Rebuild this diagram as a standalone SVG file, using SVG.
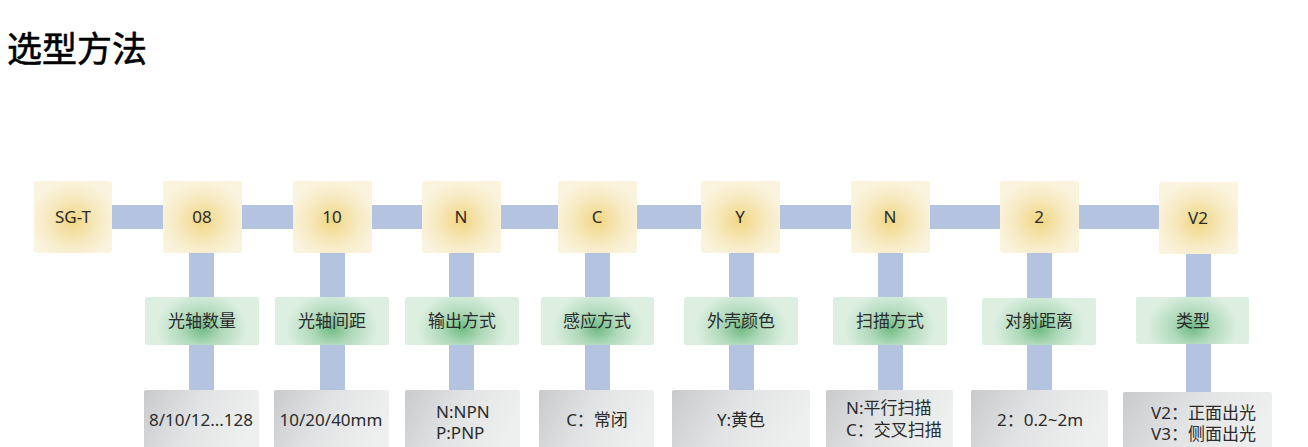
<svg xmlns="http://www.w3.org/2000/svg" width="1308" height="447" viewBox="0 0 1308 447">
<style>
text{font-family:"Noto Sans","Noto Sans CJK SC",sans-serif;fill:#2b2b2b;font-size:17px}
.title{font-family:"Noto Sans CJK SC",sans-serif;font-size:35px;font-weight:400;fill:#000;stroke:#000;stroke-width:0.6}
.c{text-anchor:middle}
.bar{fill:#b4c3e0}
.top{fill:url(#gy)}
.lab{fill:url(#gg)}
.val{fill:url(#gr)}
</style>
<defs>
<radialGradient id="gy" cx="0.5" cy="0.55" r="0.55">
<stop offset="0" stop-color="#f1d683"/>
<stop offset="0.6" stop-color="#f7eac2"/>
<stop offset="1" stop-color="#faf3dd"/>
</radialGradient>
<radialGradient id="gg" cx="0.5" cy="0.65" r="0.5" gradientTransform="translate(0.5 0.65) scale(0.8 1.5) translate(-0.5 -0.65)">
<stop offset="0" stop-color="#6fbb83"/>
<stop offset="0.45" stop-color="#b0d9ba"/>
<stop offset="1" stop-color="#dcefe1"/>
</radialGradient>
<linearGradient id="gr" x1="0" y1="0" x2="1" y2="0.3">
<stop offset="0" stop-color="#c9cacc"/>
<stop offset="0.5" stop-color="#e2e3e4"/>
<stop offset="1" stop-color="#eef0ef"/>
</linearGradient>
</defs>
<text class="title" x="7" y="62">选型方法</text>
<g id="connectors">
<rect class="bar" x="73" y="205" width="1125" height="24"/>
<rect class="bar" x="189" y="250" width="25" height="142"/>
<rect class="bar" x="320" y="250" width="25" height="142"/>
<rect class="bar" x="449" y="250" width="25" height="142"/>
<rect class="bar" x="585" y="250" width="25" height="142"/>
<rect class="bar" x="729" y="250" width="25" height="142"/>
<rect class="bar" x="878" y="250" width="25" height="142"/>
<rect class="bar" x="1027" y="250" width="25" height="142"/>
<rect class="bar" x="1186" y="250" width="25" height="142"/>
</g>
<g id="n-sgt"><rect class="top" x="34" y="181" width="78" height="72" rx="3"/><text class="c" x="73" y="223">SG-T</text></g>
<g id="n-08"><rect class="top" x="163" y="181" width="79" height="72" rx="3"/><text class="c" x="202" y="223">08</text></g>
<g id="n-10"><rect class="top" x="293" y="181" width="79" height="72" rx="3"/><text class="c" x="332" y="223">10</text></g>
<g id="n-n"><rect class="top" x="422" y="181" width="79" height="72" rx="3"/><text class="c" x="461" y="223">N</text></g>
<g id="n-c"><rect class="top" x="558" y="181" width="79" height="72" rx="3"/><text class="c" x="597" y="223">C</text></g>
<g id="n-y"><rect class="top" x="701" y="181" width="79" height="72" rx="3"/><text class="c" x="740" y="223">Y</text></g>
<g id="n-n2"><rect class="top" x="851" y="181" width="79" height="72" rx="3"/><text class="c" x="890" y="223">N</text></g>
<g id="n-2"><rect class="top" x="1000" y="181" width="79" height="72" rx="3"/><text class="c" x="1039" y="223">2</text></g>
<g id="n-v2"><rect class="top" x="1159" y="182" width="79" height="72" rx="3"/><text class="c" x="1198" y="224">V2</text></g>

<g id="l-1"><rect class="lab" x="145" y="297" width="114" height="48" rx="2"/><text class="c" x="202" y="327">光轴数量</text></g>
<g id="l-2"><rect class="lab" x="275" y="297" width="114" height="48" rx="2"/><text class="c" x="332" y="327">光轴间距</text></g>
<g id="l-3"><rect class="lab" x="405" y="297" width="114" height="48" rx="2"/><text class="c" x="462" y="327">输出方式</text></g>
<g id="l-4"><rect class="lab" x="541" y="297" width="113" height="48" rx="2"/><text class="c" x="597" y="327">感应方式</text></g>
<g id="l-5"><rect class="lab" x="684" y="297" width="114" height="48" rx="2"/><text class="c" x="741" y="327">外壳颜色</text></g>
<g id="l-6"><rect class="lab" x="833" y="297" width="114" height="48" rx="2"/><text class="c" x="890" y="327">扫描方式</text></g>
<g id="l-7"><rect class="lab" x="982" y="298" width="114" height="47" rx="2"/><text class="c" x="1039" y="327">对射距离</text></g>
<g id="l-8"><rect class="lab" x="1136" y="297" width="113" height="47" rx="2"/><text class="c" x="1193" y="327">类型</text></g>

<g id="v-1"><rect class="val" x="144" y="390" width="115" height="70" rx="2"/><text class="c" x="201" y="426">8/10/12...128</text></g>
<g id="v-2"><rect class="val" x="274" y="390" width="115" height="70" rx="2"/><text class="c" x="331" y="426">10/20/40mm</text></g>
<g id="v-3"><rect class="val" x="405" y="390" width="115" height="70" rx="2"/><text x="436" y="418">N:NPN</text><text x="436" y="439">P:PNP</text></g>
<g id="v-4"><rect class="val" x="539" y="390" width="115" height="70" rx="2"/><text class="c" x="597" y="426">C：常闭</text></g>
<g id="v-5"><rect class="val" x="672" y="390" width="138" height="70" rx="2"/><text class="c" x="741" y="426">Y:黄色</text></g>
<g id="v-6"><rect class="val" x="826" y="390" width="127" height="70" rx="2"/><text x="846" y="414">N:平行扫描</text><text x="846" y="436">C：交叉扫描</text></g>
<g id="v-7"><rect class="val" x="971" y="390" width="137" height="70" rx="2"/><text class="c" x="1040" y="426">2：0.2~2m</text></g>
<g id="v-8"><rect class="val" x="1123" y="392" width="149" height="70" rx="2"/><text x="1151" y="419">V2：正面出光</text><text x="1151" y="440">V3：侧面出光</text></g>
</svg>
